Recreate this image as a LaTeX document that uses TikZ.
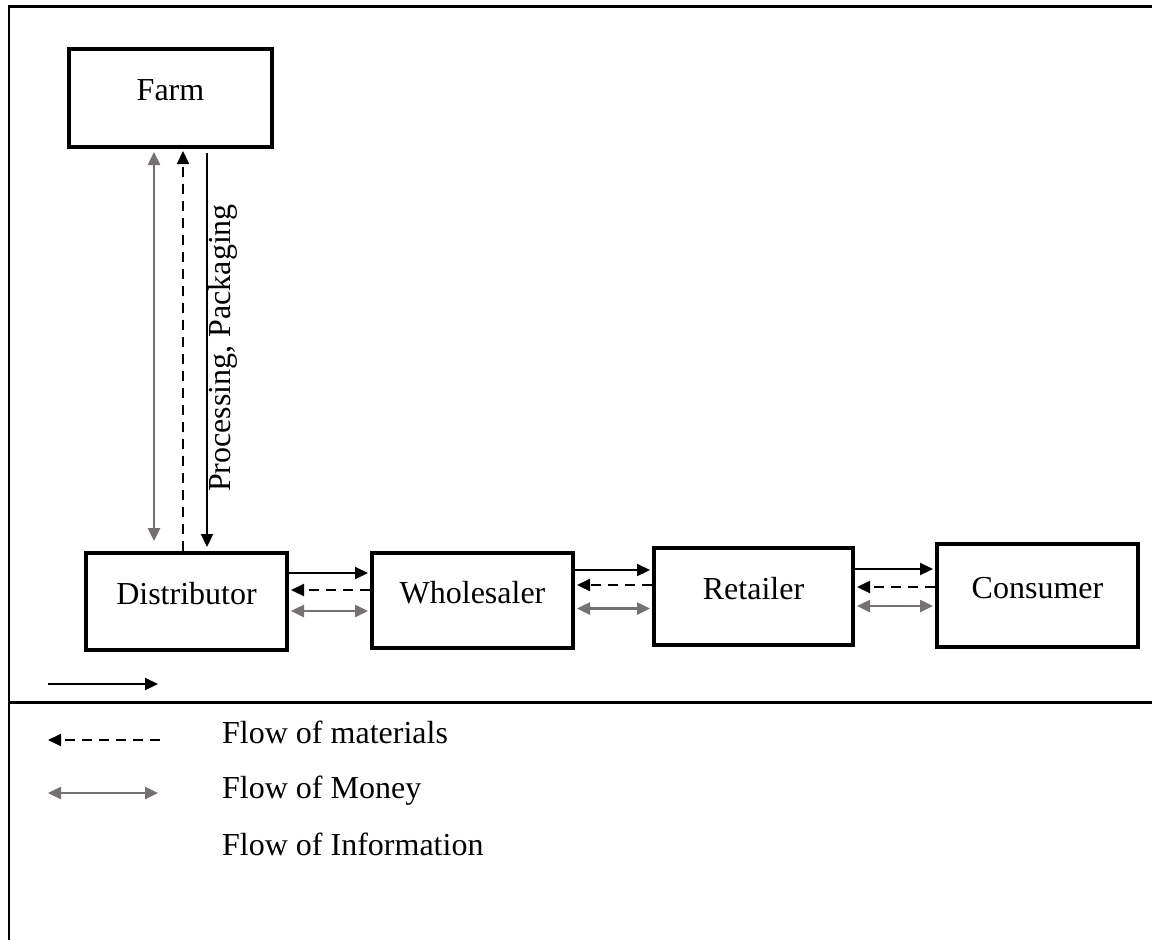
\documentclass[tikz,border=0pt]{standalone}
\usepackage{fontspec}
\setmainfont{Liberation Serif}
\usetikzlibrary{arrows.meta}
\definecolor{flowgray}{RGB}{118,113,113}
\newcommand{\lblfont}{\fontsize{32}{38}\selectfont}
\begin{document}
\begin{tikzpicture}[x=1pt,y=-1pt,
  stagebox/.style={draw, line width=4pt, inner sep=0pt, text height=20pt, text depth=15pt, font=\lblfont},
  matflow/.style={line width=2.2pt, -{Triangle[length=13pt,width=12pt]}},
  backflow/.style={line width=2.2pt, dash pattern=on 10pt off 7pt, -{Triangle[length=13pt,width=12pt]}},
  moneyflow/.style={flowgray, line width=2.5pt, {Triangle[length=13pt,width=12pt]}-{Triangle[length=13pt,width=12pt]}},
  legtext/.style={anchor=base west, inner sep=0pt, font=\lblfont},
  frameline/.style={line width=2.5pt}]
\useasboundingbox (0,0) rectangle (1152,940);

% frame
\draw[frameline] (9,940) -- (9,6.3) -- (1152,6.3);
\draw[frameline] (9,702.5) -- (1152,702.5);

% boxes
\node[stagebox, minimum width=203pt, minimum height=98pt] (farm) at (170.5,98) {Farm};
\node[stagebox, minimum width=201pt, minimum height=97pt] (dist) at (186.5,601.5) {Distributor};
\node[stagebox, minimum width=201pt, minimum height=95pt] (whole) at (472.5,600.5) {Wholesaler};
\node[stagebox, minimum width=199pt, minimum height=97pt] (ret) at (753.5,596.5) {Retailer};
\node[stagebox, minimum width=201pt, minimum height=103pt] (cons) at (1037.5,595.5) {Consumer};

% vertical flows farm <-> distributor
\coordinate (s1) at ([xshift=36.5pt]farm.south);
\draw[matflow, shorten <=4pt, shorten >=4pt] (s1) -- (s1 |- dist.north);
\coordinate (d1) at ([xshift=-3.5pt]dist.north);
\draw[backflow, shorten >=2pt] (d1) -- (d1 |- farm.south);
\coordinate (g1) at ([xshift=-32.5pt]dist.north);
\draw[moneyflow, shorten <=10pt, shorten >=3pt] (g1) -- (g1 |- farm.south);
\node[rotate=90, inner sep=0pt, font=\lblfont] (proc) at (223,348) {Processing, Packaging};

% distributor <-> wholesaler
\coordinate (a1) at ([yshift=28.5pt]dist.east);
\draw[matflow, shorten >=2pt] (a1) -- (a1 -| whole.west);
\coordinate (a2) at ([yshift=10.5pt]whole.west);
\draw[backflow, shorten >=2pt] (a2) -- (a2 -| dist.east);
\coordinate (a3) at ([yshift=-9.5pt]dist.east);
\draw[moneyflow, shorten <=2pt, shorten >=2pt] (a3) -- (a3 -| whole.west);

% wholesaler <-> retailer
\coordinate (b1) at ([yshift=30.5pt]whole.east);
\draw[matflow, shorten >=2pt] (b1) -- (b1 -| ret.west);
\coordinate (b2) at ([yshift=11.5pt]ret.west);
\draw[backflow, shorten >=2pt] (b2) -- (b2 -| whole.east);
\coordinate (b3) at ([yshift=-8pt]whole.east);
\draw[moneyflow, shorten <=2pt, shorten >=2pt] (b3) -- (b3 -| ret.west);

% retailer <-> consumer
\coordinate (c1) at ([yshift=27.5pt]ret.east);
\draw[matflow, shorten >=2pt] (c1) -- (c1 -| cons.west);
\coordinate (c2) at ([yshift=8.5pt]cons.west);
\draw[backflow, shorten >=2pt] (c2) -- (c2 -| ret.east);
\coordinate (c3) at ([yshift=-9.5pt]ret.east);
\draw[moneyflow, shorten <=2pt, shorten >=2pt] (c3) -- (c3 -| cons.west);

% legend
\coordinate (la1) at (48,684);
\coordinate (lb1) at (158,684);
\draw[matflow] (la1) -- (lb1);
\coordinate (la2) at (160,740);
\coordinate (lb2) at (48,740);
\draw[backflow] (la2) -- (lb2);
\coordinate (la3) at (48,793);
\coordinate (lb3) at (158,793);
\draw[moneyflow] (la3) -- (lb3);
\node[legtext] (t1) at (222,743) {Flow of materials};
\node[legtext] (t2) at (222,798) {Flow of Money};
\node[legtext] (t3) at (222,855) {Flow of Information};
\end{tikzpicture}
\end{document}
